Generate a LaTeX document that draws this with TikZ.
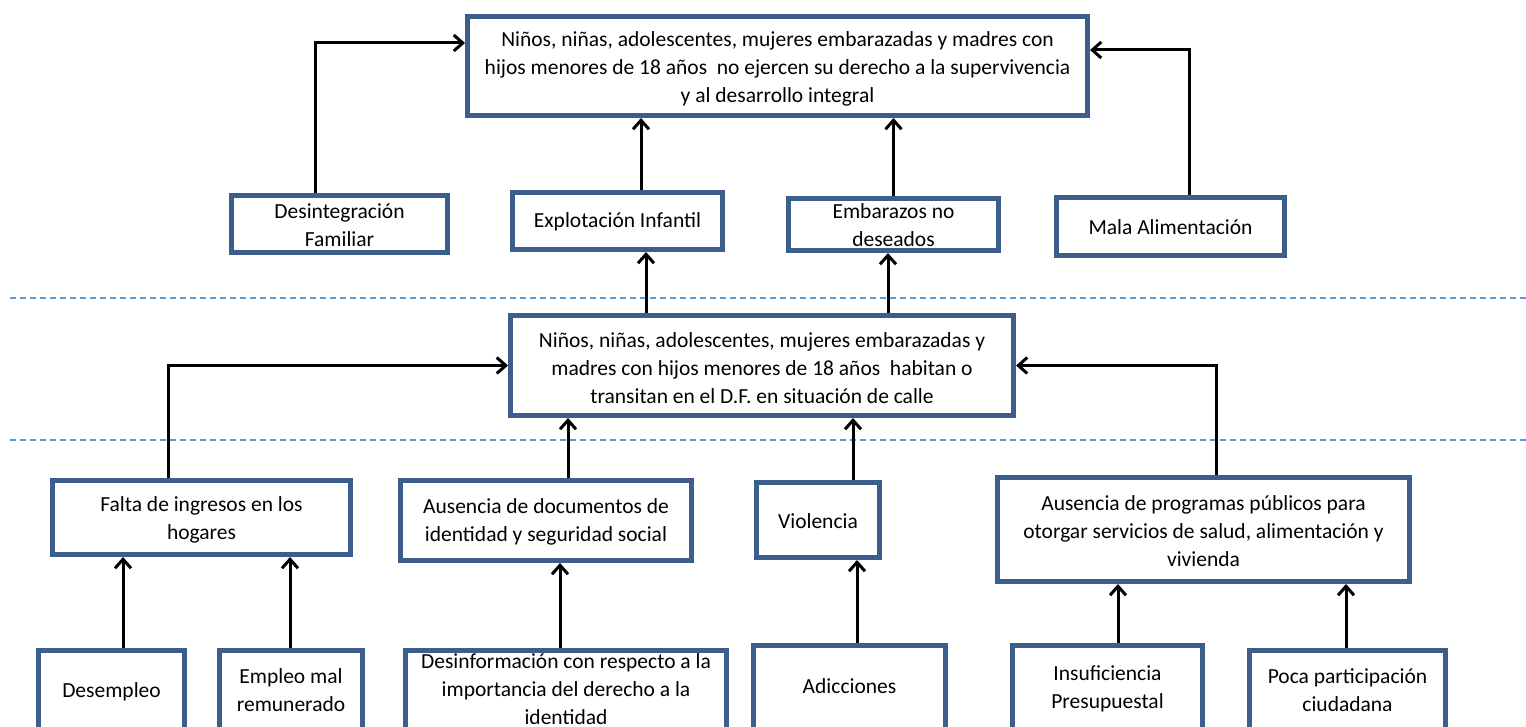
\documentclass[tikz,border=0pt]{standalone}
\usepackage{fontspec}
\setmainfont{Carlito}
\usetikzlibrary{arrows.meta}
\definecolor{boxblue}{RGB}{60,94,140}
\definecolor{dashblue}{RGB}{91,155,213}
\begin{document}
\begin{tikzpicture}[x=1pt,y=-1pt,
  box/.style={draw=boxblue, line width=5pt, fill=white, inner sep=0pt},
  txt/.style={inner sep=0pt, align=center, font=\fontsize{21.5}{28}\selectfont},
  arr/.style={draw=black, line width=3pt, -{Straight Barb[length=9pt,width=16pt]}},
  dashline/.style={draw=dashblue, line width=1.1pt, dash pattern=on 6pt off 4pt}]
\useasboundingbox (0,0) rectangle (1526,727);
\clip (0,0) rectangle (1526,727);
\fill[white] (0,0) rectangle (1526,727);

% separators
\draw[dashline] (10,298) -- (1526,298);
\draw[dashline] (10,440) -- (1526,440);

% boxes
\node[box, minimum width=620, minimum height=99] (top) at (777.5,66) {};
\node[box, minimum width=216, minimum height=57] (desint) at (339.5,224) {};
\node[box, minimum width=210, minimum height=57] (explot) at (617.5,221) {};
\node[box, minimum width=210, minimum height=52] (embar) at (893.5,224.5) {};
\node[box, minimum width=228, minimum height=58] (mala) at (1170.5,226.5) {};
\node[box, minimum width=503, minimum height=100] (mid) at (762,365.5) {};
\node[box, minimum width=298, minimum height=74] (falta) at (201.5,517.5) {};
\node[box, minimum width=291, minimum height=80] (docs) at (546,520.5) {};
\node[box, minimum width=123, minimum height=75] (viol) at (818,520) {};
\node[box, minimum width=412, minimum height=104] (prog) at (1203.5,529.5) {};
\node[box, minimum width=146, minimum height=90] (desemp) at (111.5,695) {};
\node[box, minimum width=143, minimum height=90] (empleo) at (291,695) {};
\node[box, minimum width=321, minimum height=90] (desinf) at (566,695) {};
\node[box, minimum width=192, minimum height=90] (adicc) at (849.5,690) {};
\node[box, minimum width=190, minimum height=90] (insuf) at (1107.5,690) {};
\node[box, minimum width=196, minimum height=90] (poca) at (1347.5,695) {};

% texts
\node[txt] at ([yshift=-2.5pt]top.center)
  {Niños, niñas, adolescentes, mujeres embarazadas y madres con\\hijos menores de 18 años\ \ no ejercen su derecho a la supervivencia\\y al desarrollo integral};
\node[txt] at ([yshift=-1.5pt]desint.center) {Desintegración\\Familiar};
\node[txt] at ([yshift=-1pt]explot.center) {Explotación Infantil};
\node[txt] at ([yshift=-0.5pt]embar.center) {Embarazos no\\deseados};
\node[txt] at ([yshift=-0.5pt]mala.center) {Mala Alimentación};
\node[txt] at ([yshift=-2.5pt]mid.center)
  {Niños, niñas, adolescentes, mujeres embarazadas y\\madres con hijos menores de 18 años\ \ habitan o\\transitan en el D.F. en situación de calle};
\node[txt] at ([yshift=-2.5pt]falta.center) {Falta de ingresos\ en los\\hogares};
\node[txt] at ([yshift=-1.5pt]docs.center) {Ausencia de documentos de\\identidad y seguridad social};
\node[txt] at ([yshift=-1pt]viol.center) {Violencia};
\node[txt] at ([yshift=-1.5pt]prog.center) {Ausencia de programas públicos para\\otorgar servicios de salud, alimentación y\\vivienda};
\node[txt] at (111.5,692) {Desempleo};
\node[txt] at (291,690) {Empleo mal\\remunerado};
\node[txt] at (566,689) {Desinformación\ con respecto a la\\importancia del derecho a la\\identidad};
\node[txt] at (849.5,686) {Adicciones};
\node[txt] at (1107.5,689) {Insuficiencia\\Presupuestal};
\node[txt] at (1347.5,690) {Poca participación\\ciudadana};

% connector start points
\coordinate (c1) at ([xshift=-24.5pt]desint.north);
\coordinate (c1e) at ([yshift=23pt]top.west);
\coordinate (c2) at ([xshift=23.5pt]explot.north);
\coordinate (c3) at (embar.north);
\coordinate (c4) at ([xshift=18.5pt]mala.north);
\coordinate (c4e) at ([yshift=16pt]top.east);
\coordinate (c5) at ([xshift=-116pt]mid.north);
\coordinate (c6) at ([xshift=126pt]mid.north);
\coordinate (c7) at ([xshift=-33.5pt]falta.north);
\coordinate (c8) at ([xshift=22pt]docs.north);
\coordinate (c9) at ([xshift=35pt]viol.north);
\coordinate (c10) at ([xshift=12.5pt]prog.north);
\coordinate (c11) at ([xshift=11.5pt]desemp.north);
\coordinate (c12) at ([xshift=-1pt]empleo.north);
\coordinate (c13) at ([xshift=-6pt]desinf.north);
\coordinate (c14) at ([xshift=7.5pt]adicc.north);
\coordinate (c15) at ([xshift=10.5pt]insuf.north);
\coordinate (c16) at ([xshift=-1.5pt]poca.north);

% connectors
\draw[arr] (c1) |- (c1e);
\draw[arr] (c2) -- (c2 |- top.south);
\draw[arr] (c3) -- (c3 |- top.south);
\draw[arr] (c4) |- (c4e);
\draw[arr] (c5) -- (c5 |- explot.south);
\draw[arr] (c6) -- (c6 |- embar.south);
\draw[arr] (c7) |- (mid.west);
\draw[arr] (c8) -- (c8 |- mid.south);
\draw[arr] (c9) -- (c9 |- mid.south);
\draw[arr] (c10) |- (mid.east);
\draw[arr] (c11) -- (c11 |- falta.south);
\draw[arr] (c12) -- (c12 |- falta.south);
\draw[arr] (c13) -- (c13 |- docs.south);
\draw[arr] (c14) -- (c14 |- viol.south);
\draw[arr] (c15) -- (c15 |- prog.south);
\draw[arr] (c16) -- (c16 |- prog.south);
\end{tikzpicture}
\end{document}
